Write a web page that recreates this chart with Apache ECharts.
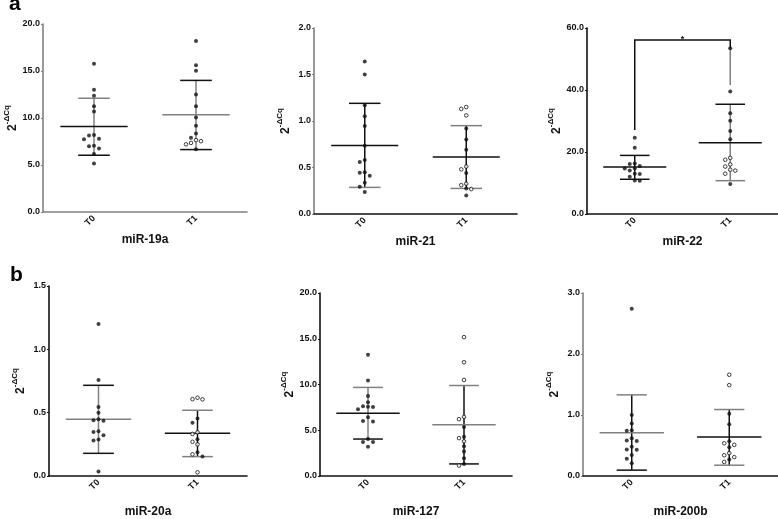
<!DOCTYPE html>
<html>
<head>
<meta charset="utf-8">
<script src="https://cdn.jsdelivr.net/npm/echarts/dist/echarts.min.js"></script>
<style>
html,body{margin:0;padding:0;background:#fff;}
#chart{width:778px;height:519px;}
</style>
</head>
<body>
<div id="chart"></div>
<script>
// ---------------- DATA ----------------
const CATEGORIES = ['T0', 'T1'];
const PANEL_TITLES = ['miR-19a', 'miR-21', 'miR-22', 'miR-20a', 'miR-127', 'miR-200b'];
const Y_MAX = [20, 2, 60, 1.5, 20, 3];
const Y_STEP = [5, 0.5, 20, 0.5, 5, 1];

// miR-19a
const MIR19A_T0_FILLED = [15.77, 13.0, 12.36, 11.26, 10.69, 8.2, 8.15, 7.8, 7.75, 7.05, 7.0, 6.75, 6.18, 5.15];
const MIR19A_T0_OPEN = [];
const MIR19A_T1_FILLED = [18.19, 15.6, 15.03, 12.5, 11.26, 10.05, 9.17, 8.35, 7.89, 6.68];
const MIR19A_T1_OPEN = [7.64, 7.35, 7.2, 7.53];
const MIR19A_STATS = [[9.09, 12.1, 6.04], [10.34, 14.0, 6.64]]; // mean, upper SD, lower SD

// miR-21
const MIR21_T0_FILLED = [1.64, 1.50, 1.17, 1.05, 0.945, 0.733, 0.58, 0.56, 0.45, 0.444, 0.41, 0.336, 0.293, 0.236];
const MIR21_T0_OPEN = [];
const MIR21_T1_FILLED = [0.92, 0.80, 0.69, 0.44, 0.275, 0.20];
const MIR21_T1_OPEN = [1.15, 1.13, 1.06, 0.51, 0.48, 0.326, 0.31, 0.268];
const MIR21_STATS = [[0.737, 1.19, 0.286], [0.612, 0.95, 0.275]];

// miR-22
const MIR22_T0_FILLED = [24.6, 21.4, 16.3, 16.1, 15.5, 14.7, 14.7, 14.0, 13.0, 12.9, 12.0, 10.8, 10.7];
const MIR22_T0_OPEN = [];
const MIR22_T1_FILLED = [53.5, 39.5, 32.5, 30.1, 26.8, 24.1, 9.7];
const MIR22_T1_OPEN = [18.1, 17.5, 16.0, 15.3, 14.3, 14.0, 13.0];
const MIR22_STATS = [[15.16, 18.9, 11.2], [23.0, 35.4, 10.75]];
const MIR22_BRACKET = [27.1, 56.1, 53.5, 41.6]; // left leg end, top, right leg (black) end, right leg (grey) end
const MIR22_SIGNIF = '*';

// miR-20a
const MIR20A_T0_FILLED = [1.20, 0.758, 0.545, 0.50, 0.449, 0.44, 0.436, 0.353, 0.348, 0.322, 0.288, 0.28, 0.036];
const MIR20A_T0_OPEN = [];
const MIR20A_T1_FILLED = [0.454, 0.42, 0.29, 0.187, 0.153];
const MIR20A_T1_OPEN = [0.618, 0.605, 0.607, 0.345, 0.332, 0.27, 0.25, 0.171, 0.029];
const MIR20A_STATS = [[0.449, 0.716, 0.179], [0.337, 0.519, 0.153]];

// miR-127
const MIR127_T0_FILLED = [13.25, 10.43, 8.75, 8.07, 7.61, 7.57, 7.55, 7.3, 6.43, 5.96, 6.0, 4.04, 3.71, 3.71, 3.21];
const MIR127_T0_OPEN = [];
const MIR127_T1_FILLED = [5.36, 4.29, 3.25, 2.68, 1.93, 1.32];
const MIR127_T1_OPEN = [15.18, 12.43, 10.5, 6.46, 6.21, 4.14, 3.79, 1.14];
const MIR127_STATS = [[6.86, 9.68, 4.04], [5.61, 9.89, 1.32]];

// miR-200b
const MIR200B_T0_FILLED = [2.74, 1.0, 0.86, 0.75, 0.74, 0.62, 0.575, 0.58, 0.48, 0.43, 0.434, 0.343, 0.284, 0.21];
const MIR200B_T0_OPEN = [];
const MIR200B_T1_FILLED = [1.02, 0.85, 0.57, 0.47, 0.27];
const MIR200B_T1_OPEN = [1.66, 1.49, 0.536, 0.51, 0.375, 0.34, 0.31, 0.23];
const MIR200B_STATS = [[0.71, 1.33, 0.096], [0.64, 1.09, 0.177]];

// ---------------- LAYOUT / STYLE ----------------
const K = '#111111', G = '#808080';
const FONT = 'Liberation Sans, Arial, sans-serif';
const GRIDS = [
  {left: 43, top: 24, width: 204, height: 188},
  {left: 314, top: 28, width: 203, height: 186},
  {left: 587, top: 28, width: 191, height: 186},
  {left: 49, top: 286, width: 198, height: 193},
  {left: 320, top: 293, width: 192, height: 187},
  {left: 583, top: 293, width: 195, height: 187}
];
const AXIS_COLORS = [[G, G], [G, K], [K, K], [K, K], [K, K], [G, K]]; // [y, x]
const BAR_COLORS = [ // per group: [mean, upper, lower, vertical]
  [[K, G, K, G], [G, K, K, G]],
  [[K, K, G, K], [K, G, G, K]],
  [[K, K, K, K], [K, K, G, G]],
  [[G, K, K, G], [K, G, G, K]],
  [[K, G, K, G], [G, G, K, K]],
  [[G, G, K, K], [K, G, G, K]]
];
const NAME_GAP_X = [22, 22, 22, 30, 30, 30];

const PANELS = [
  {t0f: MIR19A_T0_FILLED, t0o: MIR19A_T0_OPEN, t1f: MIR19A_T1_FILLED, t1o: MIR19A_T1_OPEN, stats: MIR19A_STATS},
  {t0f: MIR21_T0_FILLED, t0o: MIR21_T0_OPEN, t1f: MIR21_T1_FILLED, t1o: MIR21_T1_OPEN, stats: MIR21_STATS},
  {t0f: MIR22_T0_FILLED, t0o: MIR22_T0_OPEN, t1f: MIR22_T1_FILLED, t1o: MIR22_T1_OPEN, stats: MIR22_STATS, bracket: MIR22_BRACKET},
  {t0f: MIR20A_T0_FILLED, t0o: MIR20A_T0_OPEN, t1f: MIR20A_T1_FILLED, t1o: MIR20A_T1_OPEN, stats: MIR20A_STATS},
  {t0f: MIR127_T0_FILLED, t0o: MIR127_T0_OPEN, t1f: MIR127_T1_FILLED, t1o: MIR127_T1_OPEN, stats: MIR127_STATS},
  {t0f: MIR200B_T0_FILLED, t0o: MIR200B_T0_OPEN, t1f: MIR200B_T1_FILLED, t1o: MIR200B_T1_OPEN, stats: MIR200B_STATS}
];

// simple beeswarm: horizontal pixel offsets so dots do not overlap
function swarm(filled, open, max, h) {
  const pts = filled.map(v => ({v, open: false})).concat(open.map(v => ({v, open: true})));
  const per = h / max;
  const placed = [];
  pts.slice().sort((a, b) => b.v - a.v).forEach(p => {
    const y = p.v * per;
    const cands = [0, -5, 5, -10, 10, -15, 15];
    p.dx = 0;
    for (const dx of cands) {
      if (placed.every(q => Math.hypot(q.dx - dx, q.y - y) >= 4.4)) { p.dx = dx; break; }
    }
    placed.push({dx: p.dx, y});
  });
  return pts;
}

const option = {
  animation: false,
  backgroundColor: '#fff',
  grid: [], xAxis: [], yAxis: [], series: [],
  graphic: [
    {type: 'text', left: 9, top: -6, style: {text: 'a', font: 'bold 21px ' + FONT, fill: '#000'}},
    {type: 'text', left: 10, top: 265, style: {text: 'b', font: 'bold 21px ' + FONT, fill: '#000'}}
  ]
};

PANELS.forEach((p, i) => {
  const g = GRIDS[i];
  option.grid.push(Object.assign({containLabel: false}, g));
  option.xAxis.push({
    gridIndex: i, type: 'category', data: CATEGORIES,
    axisLine: {lineStyle: {color: AXIS_COLORS[i][1], width: 1.6}},
    axisTick: {alignWithLabel: true, length: 3, lineStyle: {color: AXIS_COLORS[i][1], width: 1}},
    axisLabel: {rotate: 45, margin: 5, fontSize: 9, fontWeight: 'bold', fontFamily: FONT, color: '#111'},
    splitLine: {show: false},
    name: PANEL_TITLES[i], nameLocation: 'middle', nameGap: NAME_GAP_X[i],
    nameTextStyle: {fontSize: 12, fontWeight: 'bold', fontFamily: FONT, color: '#111'}
  });
  option.yAxis.push({
    gridIndex: i, type: 'value', min: 0, max: Y_MAX[i], interval: Y_STEP[i],
    axisLine: {show: true, lineStyle: {color: AXIS_COLORS[i][0], width: 1.6}},
    axisTick: {show: true, length: 2, lineStyle: {color: AXIS_COLORS[i][0], width: 1}},
    axisLabel: {margin: 3, fontSize: 9, fontWeight: 'bold', fontFamily: FONT, color: '#111',
      formatter: v => v.toFixed(1)},
    splitLine: {show: false},
    name: '{b|2}{s|-ΔCq}', nameLocation: 'middle', nameGap: 22, nameRotate: 90,
    nameTextStyle: {rich: {
      b: {fontSize: 12, fontWeight: 'bold', fontFamily: FONT, color: '#111', lineHeight: 16, verticalAlign: 'bottom'},
      s: {fontSize: 8, fontWeight: 'bold', fontFamily: FONT, color: '#111', lineHeight: 10, verticalAlign: 'top'}
    }}
  });

  const filledData = [], openData = [];
  [[p.t0f, p.t0o], [p.t1f, p.t1o]].forEach((arr, ci) => {
    swarm(arr[0], arr[1], Y_MAX[i], g.height).forEach(pt => {
      const item = {value: [ci, pt.v], symbolOffset: [pt.dx, 0]};
      (pt.open ? openData : filledData).push(item);
    });
  });

  // error bars (mean ± SD)
  option.series.push({
    type: 'custom', xAxisIndex: i, yAxisIndex: i, z: 2,
    data: p.stats.map((s, ci) => [ci, s[0], s[1], s[2]]),
    renderItem: (params, api) => {
      const ci = api.value(0);
      const m = api.coord([ci, api.value(1)]);
      const u = api.coord([ci, api.value(2)]);
      const l = api.coord([ci, api.value(3)]);
      const band = api.size([1, 0])[0];
      const mw = band * 0.33, cw = band * 0.155;
      const c = BAR_COLORS[i][ci];
      const line = (x1, y1, x2, y2, col) => ({type: 'line', shape: {x1, y1, x2, y2},
        style: {stroke: col, lineWidth: 1.5}});
      return {type: 'group', children: [
        line(u[0], u[1], l[0], l[1], c[3]),
        line(m[0] - mw, m[1], m[0] + mw, m[1], c[0]),
        line(u[0] - cw, u[1], u[0] + cw, u[1], c[1]),
        line(l[0] - cw, l[1], l[0] + cw, l[1], c[2])
      ]};
    }
  });

  if (p.bracket) {
    option.series.push({
      type: 'custom', xAxisIndex: i, yAxisIndex: i, z: 2,
      data: [p.bracket],
      renderItem: (params, api) => {
        const a = api.coord([0, api.value(0)]);
        const t0 = api.coord([0, api.value(1)]);
        const t1 = api.coord([1, api.value(1)]);
        const b = api.coord([1, api.value(2)]);
        const b2 = api.coord([1, api.value(3)]);
        return {type: 'group', children: [
          {type: 'polyline', shape: {points: [a, t0, t1, b]}, style: {stroke: K, lineWidth: 1.5, fill: null}},
          {type: 'line', shape: {x1: b[0], y1: b[1], x2: b2[0], y2: b2[1]}, style: {stroke: G, lineWidth: 1.5}},
          {type: 'text', style: {text: MIR22_SIGNIF, x: (t0[0] + t1[0]) / 2, y: t0[1] + 4,
            textAlign: 'center', textVerticalAlign: 'bottom', font: 'bold 9px ' + FONT, fill: '#111'}}
        ]};
      }
    });
  }

  option.series.push({
    type: 'scatter', xAxisIndex: i, yAxisIndex: i, z: 3,
    symbol: 'circle', symbolSize: 4,
    itemStyle: {color: '#111', borderWidth: 0},
    data: filledData
  });
  option.series.push({
    type: 'scatter', xAxisIndex: i, yAxisIndex: i, z: 3,
    symbol: 'circle', symbolSize: 3.6,
    itemStyle: {color: '#fff', borderColor: '#111', borderWidth: 1},
    data: openData
  });
});

const chart = echarts.init(document.getElementById('chart'), null, {renderer: 'canvas'});
chart.setOption(option);
</script>
</body>
</html>
